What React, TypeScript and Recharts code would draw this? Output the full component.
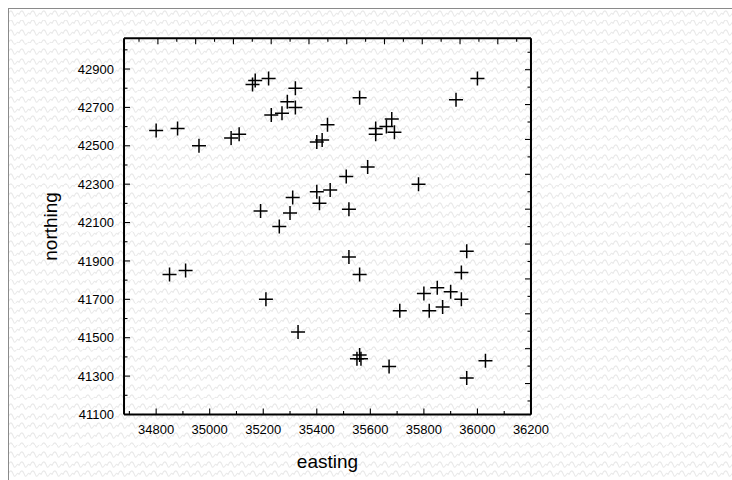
import React from 'react';
import { ScatterChart, Scatter, XAxis, YAxis, Label } from 'recharts';

const EASTING = [
  34800, 34880, 34960, 35080, 35110, 35160, 35170, 35220, 35320, 35290,
  35320, 35230, 35270, 35440, 35400, 35420, 35560, 35620, 35620, 35660,
  35680, 35690, 36000, 35920, 35780, 35590, 35510, 35400, 35450, 35310,
  35410, 35520, 35300, 35190, 35260, 35520, 35560, 34850, 34910, 35210,
  35330, 35550, 35560, 35565, 35670, 35960, 35940, 35850, 35800, 35900,
  35940, 35870, 35820, 35710, 36030, 35960,
];
const NORTHING = [
  42580, 42590, 42500, 42540, 42560, 42820, 42840, 42850, 42800, 42730,
  42700, 42660, 42670, 42610, 42520, 42530, 42750, 42590, 42560, 42600,
  42640, 42570, 42850, 42740, 42300, 42390, 42340, 42260, 42270, 42230,
  42200, 42170, 42150, 42160, 42080, 41920, 41830, 41830, 41850, 41700,
  41530, 41390, 41410, 41390, 41350, 41950, 41840, 41760, 41730, 41740,
  41700, 41660, 41640, 41640, 41380, 41290,
];

const X_MAJOR_TICKS = [34800, 35000, 35200, 35400, 35600, 35800, 36000, 36200];
const X_MINOR_TICKS = [34700, 34900, 35100, 35300, 35500, 35700, 35900, 36100];
const Y_MAJOR_TICKS = [41100, 41300, 41500, 41700, 41900, 42100, 42300, 42500, 42700, 42900];
const Y_MINOR_TICKS = [41200, 41400, 41600, 41800, 42000, 42200, 42400, 42600, 42800, 43000];
const FRAME_MAJOR_TICKS = [1, 3, 5, 7, 9, 11, 13, 15, 17, 19];
const FRAME_MINOR_TICKS = [0, 2, 4, 6, 8, 10, 12, 14, 16, 18, 20];
const FRAME_POINTS = [0, 20];

const X_DOMAIN = [34680, 36200];
const Y_DOMAIN = [41100, 43060];
const TOP_DOMAIN = [-0.794, 20.757];
const RIGHT_DOMAIN = [-0.775, 20.8];

const data = EASTING.map((e, i) => ({ e, n: NORTHING[i] }));
const frameData = FRAME_POINTS.map((v) => ({ e: v, n: v }));

const FONT = "'Liberation Sans', Arial, sans-serif";
const THIN = 0.01;

const CHART_W = 724;
const CHART_H = 472;
const MARGIN = { top: 30.3, right: 201, bottom: 65.5, left: 116 };
const P_LEFT = MARGIN.left;
const P_RIGHT = CHART_W - MARGIN.right;
const P_TOP = MARGIN.top;
const P_BOTTOM = CHART_H - MARGIN.bottom;
const MAJOR = 6;
const MINOR = 3.5;
const TW = 1.1;

const Plus = (props: any) => {
  const { cx, cy } = props;
  if (cx == null || cy == null) return <g />;
  return (
    <g>
      <line x1={cx - 7} x2={cx + 7} y1={cy} y2={cy} stroke="#000" strokeWidth={1.5} />
      <line x1={cx} x2={cx} y1={cy - 7} y2={cy + 7} stroke="#000" strokeWidth={1.5} />
    </g>
  );
};
const Nothing = () => <g />;

const BottomMajorTick = (props: any) => {
  const { x, payload } = props;
  return (
    <g>
      <line x1={x} x2={x} y1={P_BOTTOM} y2={P_BOTTOM - MAJOR} stroke="#000" strokeWidth={TW} />
      <text x={x} y={P_BOTTOM + 19.3} textAnchor="middle" fontSize={13} fontFamily={FONT} fill="#000">
        {String(payload.value)}
      </text>
    </g>
  );
};
const BottomMinorTick = (props: any) => {
  const { x } = props;
  return <line x1={x} x2={x} y1={P_BOTTOM} y2={P_BOTTOM - MINOR} stroke="#000" strokeWidth={TW} />;
};
const makeTopTick = (len: number) => (props: any) => {
  const { x } = props;
  return <line x1={x} x2={x} y1={P_TOP} y2={P_TOP + len} stroke="#000" strokeWidth={TW} />;
};
const LeftMajorTick = (props: any) => {
  const { y, payload } = props;
  return (
    <g>
      <line x1={P_LEFT} x2={P_LEFT + MAJOR} y1={y} y2={y} stroke="#000" strokeWidth={TW} />
      <text x={P_LEFT - 10} y={y} dy="0.355em" textAnchor="end" fontSize={13} fontFamily={FONT} fill="#000">
        {String(payload.value)}
      </text>
    </g>
  );
};
const LeftMinorTick = (props: any) => {
  const { y } = props;
  return <line x1={P_LEFT} x2={P_LEFT + MINOR} y1={y} y2={y} stroke="#000" strokeWidth={TW} />;
};
const makeRightTick = (len: number) => (props: any) => {
  const { y } = props;
  return <line x1={P_RIGHT} x2={P_RIGHT - len} y1={y} y2={y} stroke="#000" strokeWidth={TW} />;
};
const TopMajor = makeTopTick(MAJOR);
const TopMinor = makeTopTick(MINOR);
const RightMajor = makeRightTick(MAJOR);
const RightMinor = makeRightTick(MINOR);

const patternSvg =
  "<svg xmlns='http://www.w3.org/2000/svg' width='11' height='9.6' viewBox='0 0 11 9.6'>" +
  "<path d='M0 6.5 C1.8 1.5 3.7 1.5 5.5 6.5 C7.3 11.5 9.2 1.5 11 6.5' fill='none' stroke='%23e9e9e9' stroke-width='1'/></svg>";
const patternUrl = `url("data:image/svg+xml;utf8,${patternSvg}")`;

const EastingLabel = () => (
  <text x={(P_LEFT + P_RIGHT) / 2} y={P_BOTTOM + 53} textAnchor="middle" fontSize={19} fontFamily={FONT} fill="#000">
    easting
  </text>
);

const NorthingLabel = () => {
  const bx = P_LEFT - 67;
  const cy = (P_TOP + P_BOTTOM) / 2;
  return (
    <text x={bx} y={cy} transform={`rotate(-90, ${bx}, ${cy})`} textAnchor="middle" fontSize={19} fontFamily={FONT} fill="#000">
      northing
    </text>
  );
};

const lineStyle = { stroke: '#000', strokeWidth: 2 };

export default function App() {
  return (
    <div
      style={{
        position: 'fixed',
        left: 8,
        top: 8,
        width: CHART_W,
        height: CHART_H,
        backgroundColor: '#fff',
        backgroundImage: patternUrl,
        backgroundSize: '11px 9.6px',
        boxShadow: 'inset 1px 1px 0 #8a8a8a',
      }}
    >
      <ScatterChart width={CHART_W} height={CHART_H} margin={MARGIN}>
        <XAxis xAxisId="x" type="number" dataKey="e" domain={X_DOMAIN} allowDataOverflow ticks={X_MAJOR_TICKS}
          interval={0} height={THIN} tick={BottomMajorTick} axisLine={lineStyle} tickLine={false}>
          <Label content={EastingLabel} />
        </XAxis>
        <XAxis xAxisId="xminor" type="number" dataKey="e" domain={X_DOMAIN} allowDataOverflow ticks={X_MINOR_TICKS}
          interval={0} height={THIN} tick={BottomMinorTick} axisLine={false} tickLine={false} />
        <XAxis xAxisId="top" orientation="top" type="number" dataKey="e" domain={TOP_DOMAIN} allowDataOverflow
          ticks={FRAME_MAJOR_TICKS} interval={0} height={THIN} tick={TopMajor} axisLine={lineStyle} tickLine={false} />
        <XAxis xAxisId="topminor" orientation="top" type="number" dataKey="e" domain={TOP_DOMAIN} allowDataOverflow
          ticks={FRAME_MINOR_TICKS} interval={0} height={THIN} tick={TopMinor} axisLine={false} tickLine={false} />
        <YAxis yAxisId="y" type="number" dataKey="n" domain={Y_DOMAIN} allowDataOverflow ticks={Y_MAJOR_TICKS}
          interval={0} width={THIN} tick={LeftMajorTick} axisLine={lineStyle} tickLine={false}>
          <Label content={NorthingLabel} />
        </YAxis>
        <YAxis yAxisId="yminor" type="number" dataKey="n" domain={Y_DOMAIN} allowDataOverflow ticks={Y_MINOR_TICKS}
          interval={0} width={THIN} tick={LeftMinorTick} axisLine={false} tickLine={false} />
        <YAxis yAxisId="right" orientation="right" type="number" dataKey="n" domain={RIGHT_DOMAIN} allowDataOverflow
          ticks={FRAME_MAJOR_TICKS} interval={0} width={THIN} tick={RightMajor} axisLine={lineStyle} tickLine={false} />
        <YAxis yAxisId="rightminor" orientation="right" type="number" dataKey="n" domain={RIGHT_DOMAIN} allowDataOverflow
          ticks={FRAME_MINOR_TICKS} interval={0} width={THIN} tick={RightMinor} axisLine={false} tickLine={false} />
        <Scatter data={data} xAxisId="xminor" yAxisId="yminor" shape={Nothing} isAnimationActive={false} />
        <Scatter data={frameData} xAxisId="top" yAxisId="right" shape={Nothing} isAnimationActive={false} />
        <Scatter data={frameData} xAxisId="topminor" yAxisId="rightminor" shape={Nothing} isAnimationActive={false} />
        <Scatter data={data} xAxisId="x" yAxisId="y" shape={Plus} isAnimationActive={false} />
      </ScatterChart>
    </div>
  );
}
